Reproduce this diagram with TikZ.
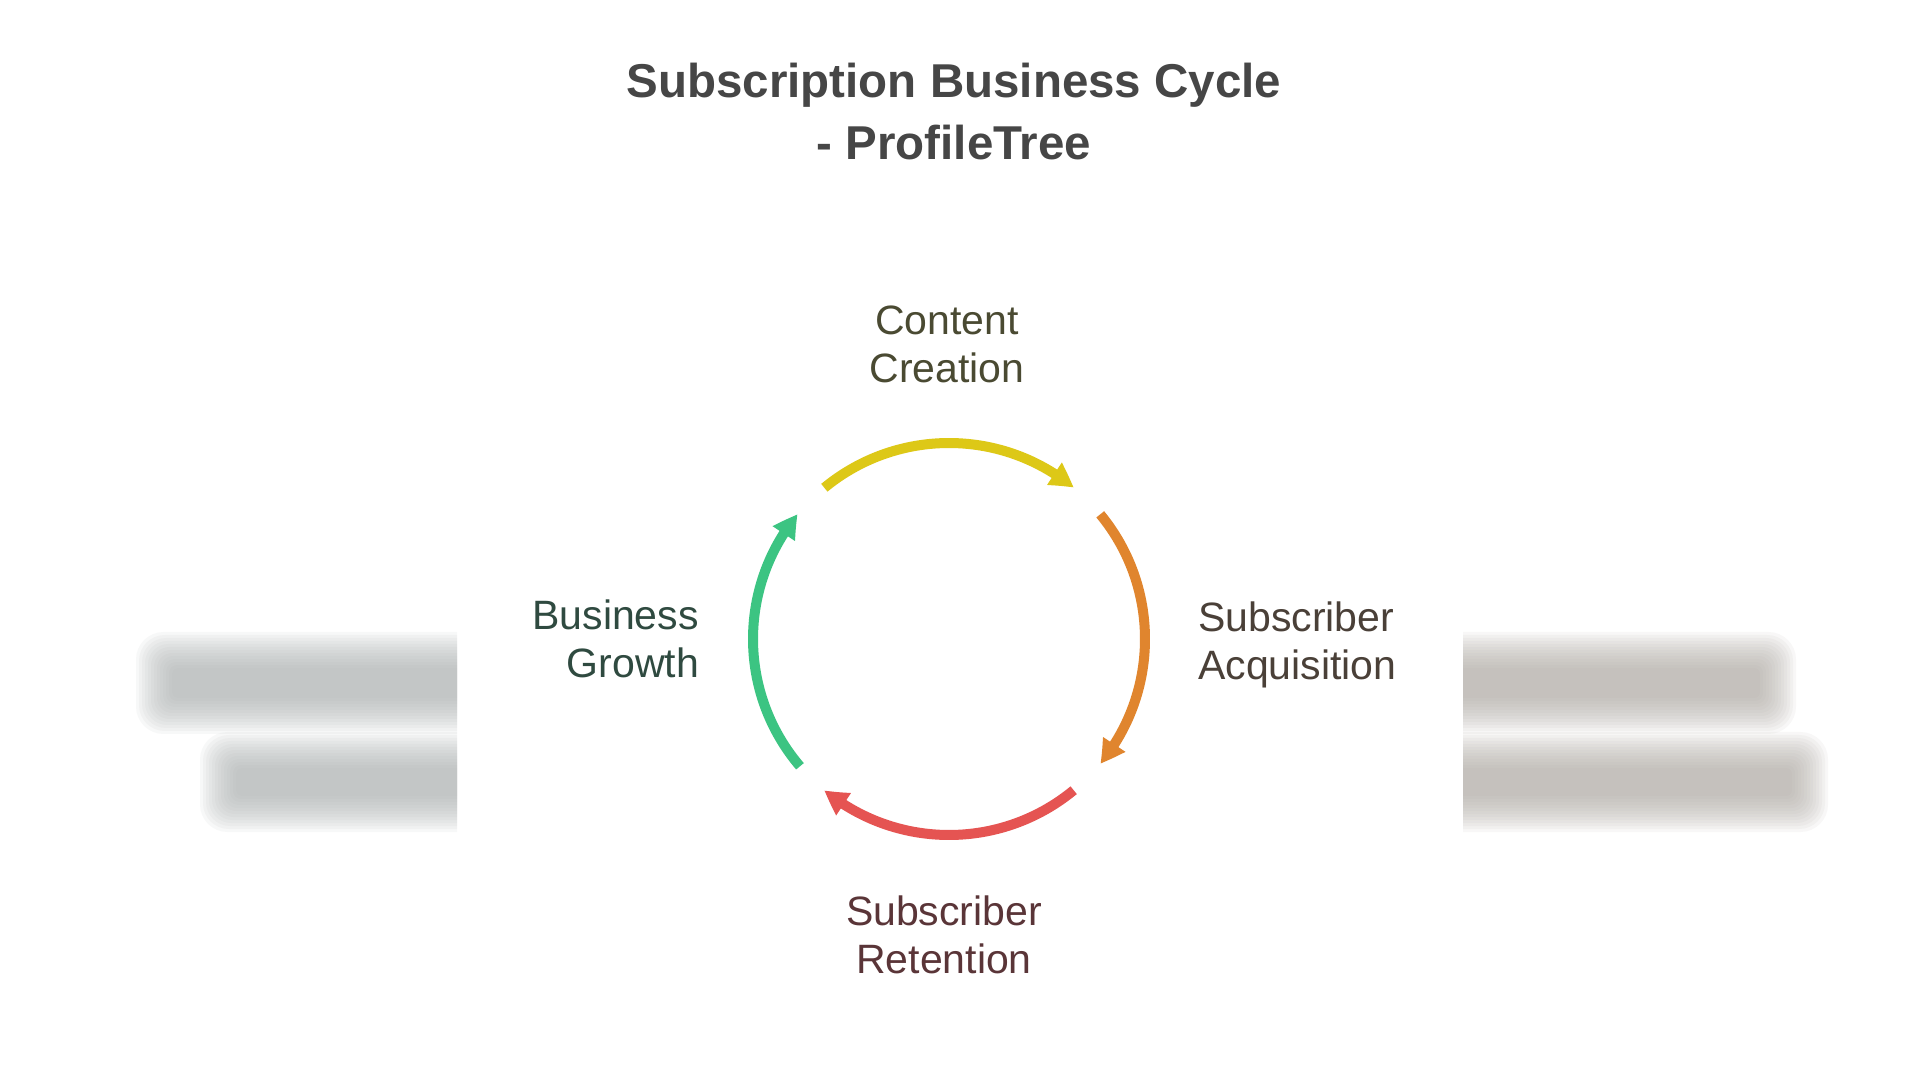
\documentclass[tikz,border=0pt]{standalone}
\usepackage{fontspec}
\setmainfont{Liberation Sans}
\usetikzlibrary{arrows.meta,bending,calc}
\definecolor{cyellow}{HTML}{DDC817}
\definecolor{corange}{HTML}{E0852E}
\definecolor{cred}{HTML}{E55452}
\definecolor{cgreen}{HTML}{3CC482}
\definecolor{ctitle}{HTML}{464646}
\definecolor{tcontent}{HTML}{4A4A32}
\definecolor{tacq}{HTML}{4A4038}
\definecolor{tret}{HTML}{5A3538}
\definecolor{tgrowth}{HTML}{2F4A40}
\definecolor{blurL}{HTML}{B0B4B4}
\definecolor{blurR}{HTML}{B3ADA7}
\tikzset{
  titletext/.style={font=\fontsize{47.5}{62}\selectfont\bfseries, text=ctitle, inner sep=0pt, align=center},
  labeltext/.style={font=\fontsize{41}{48}\selectfont, inner sep=0pt},
  cyclearc/.style={line width=10pt, -{Triangle[length=24pt,width=25pt,bend]}},
  blurband/.style={opacity=0.09}
}
\newcommand{\blurbox}[5]{% color, x1, y1, x2, y2
  \foreach \s in {0,3,...,36}{
    \pgfmathsetmacro{\rc}{0.6*\s+6}
    \fill[#1, blurband, rounded corners=\rc pt] (#2-\s,#3-\s) rectangle (#4+\s,#5+\s);
  }
}
\begin{document}
\begin{tikzpicture}[x=1pt,y=1pt]
\useasboundingbox (0,0) rectangle (1920,1080);
\fill[white] (0,0) rectangle (1920,1080);

% blurred side panels
\begin{scope}
  \clip (0,0) rectangle (457,1080);
  \blurbox{blurL}{172}{382}{540}{412}
  \blurbox{blurL}{236}{284}{540}{312}
\end{scope}
\begin{scope}
  \clip (1463,0) rectangle (1920,1080);
  \blurbox{blurR}{1380}{382}{1760}{412}
  \blurbox{blurR}{1380}{284}{1792}{312}
\end{scope}

% title
\node[titletext, anchor=base] (title) at (954,920) {Subscription Business Cycle\\- ProfileTree};

% cycle
\coordinate (c) at (949,441);
\coordinate (ys) at ($(c)+(129.5:196)$);
\coordinate (os) at ($(c)+(39.5:196)$);
\coordinate (rs) at ($(c)+(-50.5:196)$);
\coordinate (gs) at ($(c)+(-139.5:196)$);
\draw[cyclearc, cyellow] (ys) arc[start angle=129.5, end angle=50.5, radius=196];
\draw[cyclearc, corange] (os) arc[start angle=39.5, end angle=-39.5, radius=196];
\draw[cyclearc, cred] (rs) arc[start angle=-50.5, end angle=-129.5, radius=196];
\draw[cyclearc, cgreen] (gs) arc[start angle=-139.5, end angle=-219.5, radius=196];

% labels
\node[labeltext, text=tcontent, align=center, anchor=base] (content) at (947,697) {Content\\Creation};
\node[labeltext, text=tacq, align=left, anchor=base west] (acq) at (1198,400) {Subscriber\\Acquisition};
\node[labeltext, text=tret, align=center, anchor=base] (ret) at (944,107) {Subscriber\\Retention};
\node[labeltext, text=tgrowth, align=right, anchor=base east] (growth) at (699,402) {Business\\Growth};
\end{tikzpicture}
\end{document}
